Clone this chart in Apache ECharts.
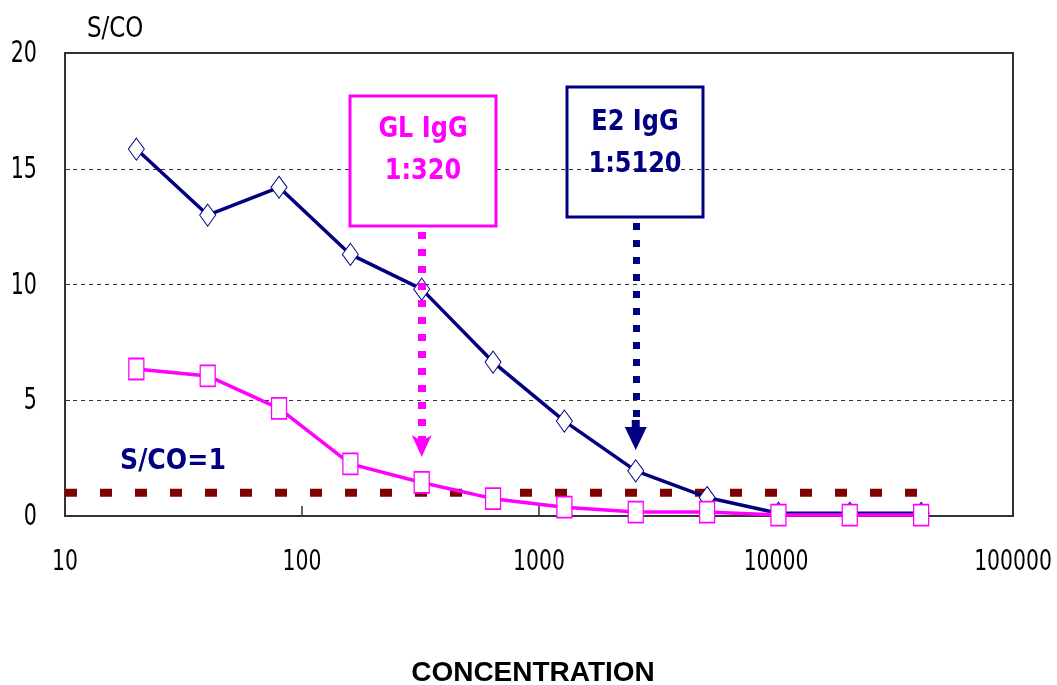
<!DOCTYPE html>
<html>
<head>
<meta charset="utf-8">
<script src="https://cdn.jsdelivr.net/npm/echarts@6/dist/echarts.min.js"></script>
<style>
html,body{margin:0;padding:0;background:#fff;}
#chart{width:1057px;height:685px;}
</style>
</head>
<body>
<div id="chart"></div>
<script>
// ---- data ----
const concentrations = [20, 40, 80, 160, 320, 640, 1280, 2560, 5120, 10240, 20480, 40960];
const e2IgG = [15.85, 13.0, 14.2, 11.3, 9.8, 6.65, 4.1, 1.95, 0.8, 0.12, 0.12, 0.12];
const glIgG = [6.35, 6.05, 4.65, 2.25, 1.45, 0.75, 0.38, 0.17, 0.17, 0.04, 0.04, 0.04];
const cutoffValue = 1;
const cutoffRange = [10, 40960];
const glEndpoint = 320;
const e2Endpoint = 2560;
const glArrowRange = [12.27, 3.02];
const e2ArrowRange = [12.66, 3.5];
const xTickValues = [10, 100, 1000, 10000, 100000];
const xTickLabels = ['10', '100', '1000', '10000', '100000'];
const yTickValues = [0, 5, 10, 15, 20];
const yTickLabels = ['0', '5', '10', '15', '20'];

const COND = "'DejaVu Sans Condensed', 'DejaVu Sans', sans-serif";
const VERD = "'DejaVu Sans', Verdana, sans-serif";
const NAVY = '#000080';
const MAG = '#FF00FF';

const chart = echarts.init(document.getElementById('chart'), null, {renderer: 'canvas'});

const toPairs = (xs, ys) => xs.map((x, i) => [x, ys[i]]);

const baseGraphic = [
  {id: 'ytitle', type: 'text', x: 87, y: 29, scaleX: 0.88, style: {text: 'S/CO', fontSize: 29, fontFamily: COND, fill: '#000', verticalAlign: 'middle'}},
  {id: 'cutlbl', type: 'text', x: 120, y: 462, scaleX: 1.05, scaleY: 1.15, style: {text: 'S/CO=1', fontSize: 24, fontWeight: 'bold', fontFamily: VERD, fill: NAVY, verticalAlign: 'middle'}},
  {id: 'glbox', type: 'rect', shape: {x: 350, y: 96, width: 146, height: 130}, style: {fill: '#fff', stroke: MAG, lineWidth: 3}, z: 10},
  {id: 'glt1', type: 'text', x: 423, y: 130, scaleY: 1.15, style: {text: 'GL IgG', fontSize: 24, fontWeight: 'bold', fontFamily: VERD, fill: MAG, align: 'center', verticalAlign: 'middle'}, z: 11},
  {id: 'glt2', type: 'text', x: 423, y: 172, scaleY: 1.15, style: {text: '1:320', fontSize: 24, fontWeight: 'bold', fontFamily: VERD, fill: MAG, align: 'center', verticalAlign: 'middle'}, z: 11},
  {id: 'e2box', type: 'rect', shape: {x: 567, y: 87, width: 136, height: 130}, style: {fill: 'transparent', stroke: NAVY, lineWidth: 3}, z: 10},
  {id: 'e2t1', type: 'text', x: 635, y: 123, scaleY: 1.15, style: {text: 'E2 IgG', fontSize: 24, fontWeight: 'bold', fontFamily: VERD, fill: NAVY, align: 'center', verticalAlign: 'middle'}, z: 11},
  {id: 'e2t2', type: 'text', x: 635, y: 165, scaleY: 1.15, style: {text: '1:5120', fontSize: 24, fontWeight: 'bold', fontFamily: VERD, fill: NAVY, align: 'center', verticalAlign: 'middle'}, z: 11}
];

const option = {
  animation: false,
  backgroundColor: '#ffffff',
  grid: {
    left: 65, right: 44, top: 53, bottom: 169,
    containLabel: false, outerBoundsMode: 'none',
    show: true, borderColor: '#333333', borderWidth: 2, backgroundColor: 'transparent'
  },
  xAxis: {
    type: 'log', logBase: 10, min: 10, max: 100000,
    axisLine: {show: true, lineStyle: {color: '#333333', width: 2}},
    axisTick: {show: true, inside: true, length: 10, lineStyle: {color: '#333333', width: 1.5}},
    minorTick: {show: false},
    splitLine: {show: false},
    axisLabel: {show: false},
    name: 'CONCENTRATION',
    nameLocation: 'middle',
    nameGap: 143,
    nameTextStyle: {fontSize: 28, fontWeight: 'bold', color: '#000', fontFamily: "'Liberation Sans', Arial, sans-serif", verticalAlign: 'top', padding: [0, 12, 0, 0]}
  },
  yAxis: {
    type: 'value', min: 0, max: 20, interval: 5,
    axisLine: {show: true, lineStyle: {color: '#333333', width: 2}},
    axisTick: {show: true, inside: true, length: 5, lineStyle: {color: '#333333'}},
    splitLine: {show: true, lineStyle: {color: '#333333', type: [4, 4], width: 1}},
    axisLabel: {show: false}
  },
  series: [
    {
      name: 'S/CO=1',
      type: 'line',
      data: [[cutoffRange[0], cutoffValue], [cutoffRange[1], cutoffValue]],
      showSymbol: false, symbol: 'none', silent: true,
      lineStyle: {color: '#800000', width: 8, type: [12, 23], cap: 'butt'},
      z: 1
    },
    {
      name: 'E2 IgG',
      type: 'line',
      data: toPairs(concentrations, e2IgG),
      symbol: 'diamond', symbolSize: [16, 22],
      itemStyle: {color: '#ffffff', borderColor: NAVY, borderWidth: 1},
      lineStyle: {color: NAVY, width: 3.5},
      z: 3,
      markLine: {
        silent: true,
        symbol: ['none', 'path://M11,0 L22,23 L15,23 L15,30 L7,30 L7,23 L0,23 Z'],
        symbolSize: [22, 30],
        label: {show: false},
        lineStyle: {color: NAVY, width: 7, type: [7, 10], cap: 'butt'},
        itemStyle: {color: NAVY},
        data: [[{coord: [e2Endpoint, e2ArrowRange[0]]}, {coord: [e2Endpoint, e2ArrowRange[1]]}]]
      }
    },
    {
      name: 'GL IgG',
      type: 'line',
      data: toPairs(concentrations, glIgG),
      symbol: 'rect', symbolSize: [15, 21],
      itemStyle: {color: '#ffffff', borderColor: MAG, borderWidth: 1.5},
      lineStyle: {color: MAG, width: 3.5},
      z: 4,
      markLine: {
        silent: true,
        symbol: ['none', 'path://M10,0 L20,22 L10,16 L0,22 Z'],
        symbolSize: [20, 22],
        label: {show: false},
        lineStyle: {color: MAG, width: 8, type: [7, 10], cap: 'butt'},
        itemStyle: {color: MAG},
        data: [[{coord: [glEndpoint, glArrowRange[0]]}, {coord: [glEndpoint, glArrowRange[1]]}]]
      }
    }
  ],
  graphic: baseGraphic
};
chart.setOption(option);

// Tick labels placed through the axis scales (narrow glyphs like the original)
const tickGraphic = [];
xTickValues.forEach((v, i) => {
  const p = chart.convertToPixel({gridIndex: 0}, [v, 0]);
  tickGraphic.push({id: 'xl' + i, type: 'text', x: p[0], y: p[1] + 46, scaleX: 0.78,
    style: {text: xTickLabels[i], fontSize: 29, fontFamily: COND, fill: '#000', align: 'center', verticalAlign: 'middle'}});
});
yTickValues.forEach((v, i) => {
  const p = chart.convertToPixel({gridIndex: 0}, [10, v]);
  tickGraphic.push({id: 'yl' + i, type: 'text', x: p[0] - 28, y: p[1] + 1, scaleX: 0.74,
    style: {text: yTickLabels[i], fontSize: 31, fontFamily: COND, fill: '#000', align: 'right', verticalAlign: 'middle'}});
});
option.graphic = baseGraphic.concat(tickGraphic);
chart.setOption(option, true);
</script>
</body>
</html>
